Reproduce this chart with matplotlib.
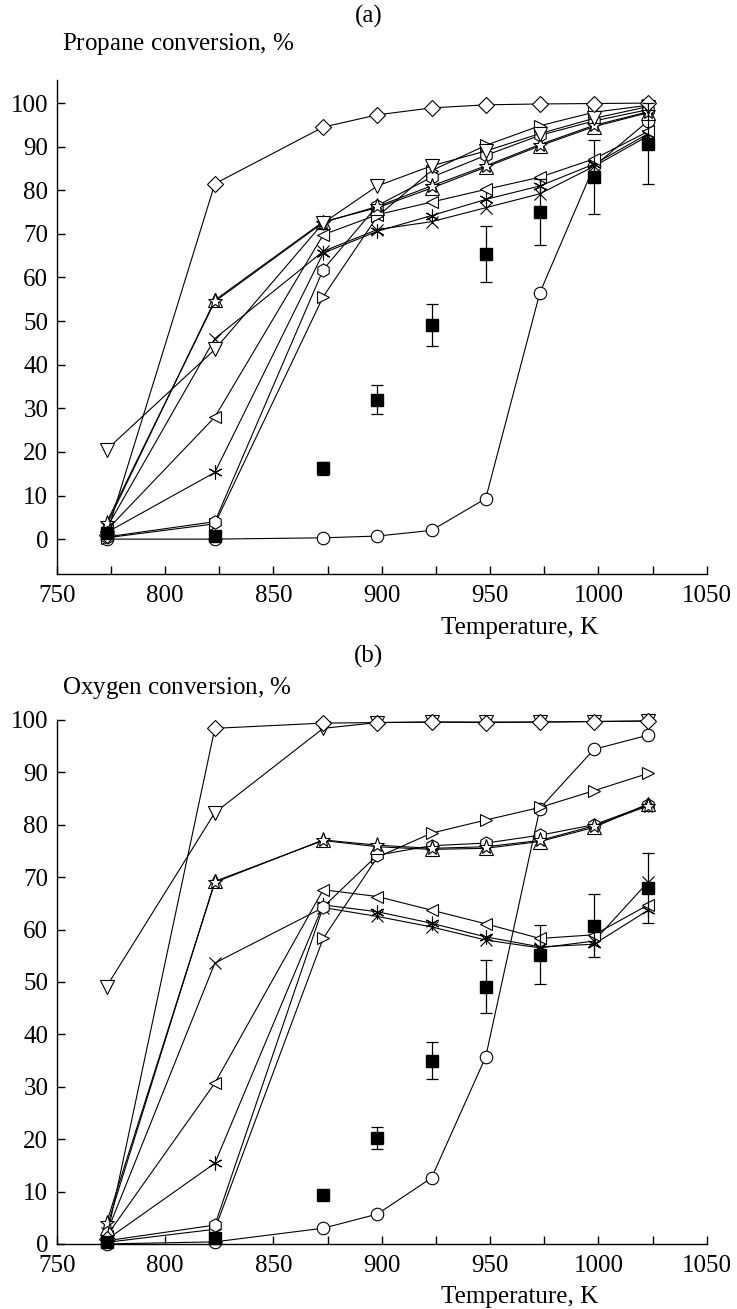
import matplotlib
matplotlib.use("Agg")
import matplotlib.pyplot as plt
from matplotlib.ticker import MultipleLocator

plt.rcParams['font.family'] = ['Liberation Serif', 'DejaVu Serif']
plt.rcParams['mathtext.fontset'] = 'custom'
plt.rcParams['mathtext.rm'] = 'Liberation Serif'
plt.rcParams['mathtext.it'] = 'Liberation Serif:italic'

# temperatures, K
temps = [773, 823, 873, 898, 923, 948, 973, 998, 1023]

# (a) propane conversion, %
prop_diamond = [1.0, 81.5, 94.5, 97.3, 98.9, 99.6, 99.8, 99.9, 100.0]
prop_down = [20.5, 43.5, 72.5, 81.0, 85.6, 89.0, 93.0, 96.5, 99.2]
prop_right = [0.3, 3.5, 55.6, 74.0, 84.5, 90.3, 94.8, 97.9, 99.5]
prop_hex = [0.5, 4.0, 61.8, 76.5, 83.0, 88.0, 92.6, 95.9, 98.5]
prop_star = [3.8, 54.5, 72.6, 76.3, 81.0, 85.6, 90.5, 94.9, 98.0]
prop_up = [3.2, 54.8, 72.8, 76.0, 80.5, 85.3, 90.2, 94.6, 97.8]
prop_left = [2.0, 28.0, 69.8, 74.4, 77.3, 80.2, 83.0, 87.2, 93.5]
prop_x = [2.5, 46.0, 66.0, 71.0, 72.8, 76.0, 79.2, 85.5, 92.5]
prop_ast = [1.5, 15.3, 65.6, 70.6, 74.2, 77.9, 81.0, 86.0, 93.0]
prop_circle = [0.0, 0.0, 0.3, 0.7, 2.0, 9.3, 56.5, 85.5, 95.9]
prop_square = [1.5, 0.7, 16.3, 32.0, 49.2, 65.4, 75.0, 83.0, 90.7]
prop_square_err = [0.5, 0.5, 1.5, 3.3, 4.8, 6.5, 7.5, 8.5, 9.3]

# (b) oxygen conversion, %
oxy_diamond = [1.0, 98.4, 99.4, 99.5, 99.6, 99.5, 99.6, 99.7, 99.8]
oxy_down = [49.1, 82.3, 98.4, 99.5, 99.6, 99.6, 99.6, 99.7, 99.8]
oxy_right = [0.3, 2.8, 58.3, 73.8, 78.4, 80.9, 83.3, 86.5, 89.8]
oxy_hex = [0.6, 3.6, 64.3, 74.2, 76.0, 76.5, 78.0, 80.0, 83.8]
oxy_star = [4.0, 69.0, 77.1, 76.1, 75.5, 75.8, 77.0, 79.8, 83.6]
oxy_up = [3.0, 69.2, 77.0, 75.8, 75.3, 75.5, 76.8, 79.5, 84.0]
oxy_left = [1.5, 30.7, 67.6, 66.3, 63.7, 61.1, 58.3, 59.0, 64.7]
oxy_x = [2.0, 53.6, 64.2, 62.5, 60.5, 58.0, 56.5, 57.8, 69.1]
oxy_ast = [0.8, 15.4, 64.7, 63.4, 61.2, 58.6, 56.7, 57.2, 63.7]
oxy_circle = [0.0, 0.4, 3.0, 5.7, 12.6, 35.7, 83.1, 94.4, 97.1]
oxy_square = [0.3, 1.2, 9.3, 20.3, 35.0, 49.1, 55.2, 60.7, 67.9]
oxy_square_err = [0.2, 0.3, 0.8, 2.1, 3.5, 5.0, 5.6, 6.0, 6.7]

ASTERISK = (6, 2, 0)
FS = 18


def draw_panel(ax, series, square, square_err):
    for values, marker, size in series:
        ax.plot(temps, values, color='black', lw=0.8, marker=marker,
                markersize=size, markerfacecolor='white',
                markeredgecolor='black', markeredgewidth=0.8, clip_on=False)
    ax.errorbar(temps, square, yerr=square_err, fmt='s', color='black',
                markersize=8, elinewidth=0.9, capsize=4, capthick=0.9,
                clip_on=False)

    ax.set_xlim(750, 1050)
    ax.xaxis.set_major_locator(MultipleLocator(50))
    ax.xaxis.set_minor_locator(MultipleLocator(25))
    ax.yaxis.set_major_locator(MultipleLocator(10))
    ax.spines['top'].set_visible(False)
    ax.spines['right'].set_visible(False)
    for s in ('left', 'bottom'):
        ax.spines[s].set_linewidth(1.0)
    ax.tick_params(which='both', direction='in', length=6, width=1.0,
                   labelsize=FS)
    ax.tick_params(axis='x', which='both', pad=8)
    ax.tick_params(axis='y', pad=6)


def make_series(d, v, r, h, st, up, l, x, a, c):
    return [
        (c, 'o', 9),
        (a, ASTERISK, 10),
        (x, 'x', 9),
        (l, '<', 9),
        (r, '>', 9),
        (h, 'h', 9.5),
        (up, '^', 9.5),
        (st, '*', 11),
        (v, 'v', 9.5),
        (d, 'D', 8),
    ]


fig = plt.figure(figsize=(7.37, 13.09), dpi=100)

ax1 = fig.add_axes([0.0769, 0.5615, 0.882, 0.3774])
draw_panel(ax1, make_series(prop_diamond, prop_down, prop_right, prop_hex,
                            prop_star, prop_up, prop_left, prop_x, prop_ast,
                            prop_circle), prop_square, prop_square_err)
ax1.set_ylim(-8.0, 105.3)

ax2 = fig.add_axes([0.0769, 0.0497, 0.882, 0.4003])
draw_panel(ax2, make_series(oxy_diamond, oxy_down, oxy_right, oxy_hex,
                            oxy_star, oxy_up, oxy_left, oxy_x, oxy_ast,
                            oxy_circle), oxy_square, oxy_square_err)
ax2.set_ylim(0, 100)

# labels
fig.text(0.5, 1 - 16 / 1309, '(a)', ha='center', va='center', fontsize=FS)
fig.text(62 / 737, 1 - 44 / 1309, r'Propane conversion, $\mathit{\%}$',
         ha='left', va='center', fontsize=FS)
fig.text(520 / 737, 1 - 628 / 1309, 'Temperature, K', ha='center',
         va='center', fontsize=FS)
fig.text(0.5, 1 - 656 / 1309, '(b)', ha='center', va='center', fontsize=FS)
fig.text(62 / 737, 1 - 688 / 1309, r'Oxygen conversion, $\mathit{\%}$',
         ha='left', va='center', fontsize=FS)
fig.text(520 / 737, 1 - 1297 / 1309, 'Temperature, K', ha='center',
         va='center', fontsize=FS)

fig.savefig('out.png', dpi=100)
